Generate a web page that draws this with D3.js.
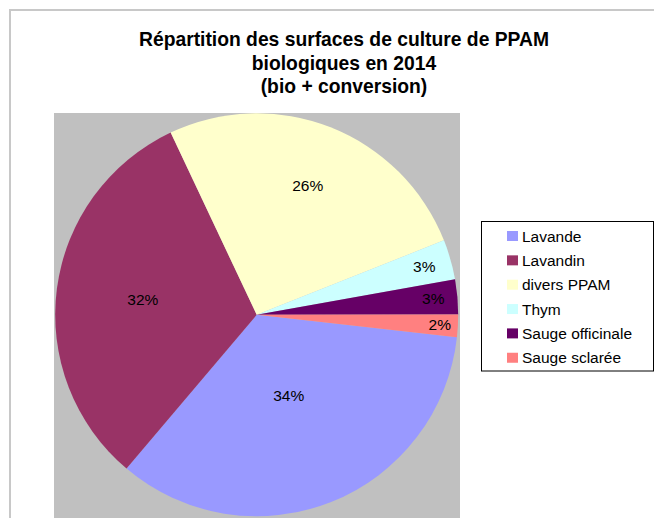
<!DOCTYPE html>
<html><head><meta charset="utf-8">
<script src="https://cdn.jsdelivr.net/npm/d3@7/dist/d3.min.js"></script>
<style>body{margin:0;background:#fff;font-family:"Liberation Sans",Arial,sans-serif;}</style>
</head><body><svg id="c" width="654" height="518"></svg>
<script>
const categories = ["Lavande","Lavandin","divers PPAM","Thym","Sauge officinale","Sauge sclarée"];
const values = [34.4, 31.8, 26.0, 3.2, 2.8, 1.8];
const colors = ["#9999FF","#993366","#FFFFCC","#CCFFFF","#660066","#FF8080"];
const titleLines = ["Répartition des surfaces de culture de PPAM","biologiques en 2014","(bio + conversion)"];
const labelRadiusFrac = [0.43, 0.57, 0.69, 0.865, 0.88, 0.91];

const svg = d3.select("#c");
const W = 654, H = 518;
// outer chart border
svg.append("rect").attr("x",10).attr("y",10).attr("width",700).attr("height",600)
  .attr("fill","#fff").attr("stroke","#c8c8c8").attr("stroke-width",2);

// title
svg.append("g").selectAll("text").data(titleLines).join("text")
  .attr("x",344).attr("y",(d,i)=>46+i*23.5)
  .attr("text-anchor","middle").attr("font-size","19.3px").attr("font-weight","bold")
  .attr("fill","#000").text(d=>d);

// plot area
svg.append("rect").attr("x",54).attr("y",113).attr("width",406).attr("height",410).attr("fill","#C0C0C0");

const cx = 256.7, cy = 314.8, r = 201.5;
const deg = Math.PI/180;
const pie = d3.pie().sort(null).value(d=>d)
  .startAngle(96.4*deg).endAngle(96.4*deg + 2*Math.PI);
const arcs = pie(values);
const arc = d3.arc().innerRadius(0).outerRadius(r);
const total = d3.sum(values);
const g = svg.append("g").attr("transform",`translate(${cx},${cy})`);
g.selectAll("path").data(arcs).join("path").attr("d",arc).attr("fill",(d,i)=>colors[i]);
g.selectAll("text").data(arcs).join("text")
  .attr("transform",(d,i)=>{
    const a=(d.startAngle+d.endAngle)/2, rr=r*labelRadiusFrac[i];
    return `translate(${rr*Math.sin(a)},${-rr*Math.cos(a)})`;})
  .attr("text-anchor","middle").attr("dy","0.35em").attr("font-size","15.5px").attr("fill","#000")
  .text(d=>Math.round(d.value/total*100)+"%");

// legend
const lg = svg.append("g");
lg.append("rect").attr("x",481.5).attr("y",221.5).attr("width",172).attr("height",149.5)
  .attr("fill","#fff").attr("stroke","#000").attr("stroke-width",1);
const rows = lg.selectAll("g.r").data(categories).join("g").attr("class","r")
  .attr("transform",(d,i)=>`translate(0,${236+i*24.35})`);
rows.append("rect").attr("x",507).attr("y",-5).attr("width",11).attr("height",10).attr("fill",(d,i)=>colors[i]);
rows.append("text").attr("x",522).attr("dy","0.36em").attr("font-size","15.5px").attr("fill","#000").text(d=>d);
</script></body></html>
